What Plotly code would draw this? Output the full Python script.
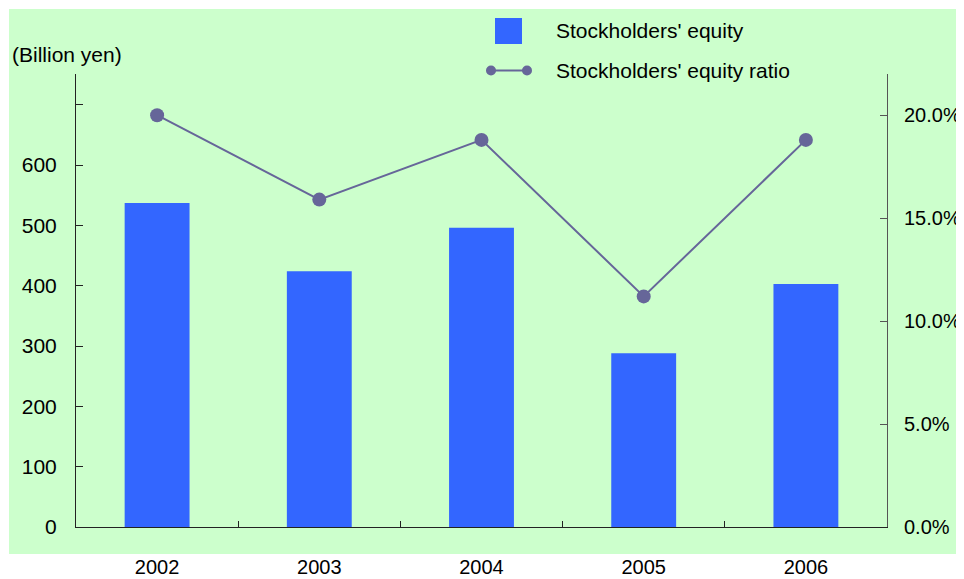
import plotly.graph_objects as go

years = ["2002", "2003", "2004", "2005", "2006"]
equity = [537, 424, 496, 288, 403]          # billion yen
equity_ratio = [20.0, 15.9, 18.8, 11.2, 18.8]  # %

left_ticks = [0, 100, 200, 300, 400, 500, 600, 700]
left_text = ["0", "100", "200", "300", "400", "500", "600", ""]
right_ticks = [0, 5, 10, 15, 20]
right_text = ["0.0%", "5.0%", "10.0%", "15.0%", "20.0%"]

BAR = "#3366FF"
LINE = "#666699"
GREEN = "#CCFFCC"
FONT = "Liberation Sans, Arial, sans-serif"

OFF = 8  # page body offset
W, H = 964 - OFF, 579 - OFF
L, T = 76 - OFF, 74 - OFF
R = W - (887 - OFF)
B = H - (527 - OFF)
pw, ph = W - L - R, H - T - B

def px_x(x):  # screen px -> paper
    return (x - OFF - L) / pw

def px_y(y):
    return (H - B - (y - OFF)) / ph

fig = go.Figure()
fig.add_trace(go.Bar(x=years, y=equity, name="Stockholders' equity",
                     marker=dict(color=BAR, line=dict(width=0)), showlegend=False))
fig.add_trace(go.Scatter(x=years, y=equity_ratio, name="Stockholders' equity ratio",
                         yaxis="y2", mode="lines+markers",
                         line=dict(color=LINE, width=2),
                         marker=dict(color=LINE, size=14), showlegend=False))

shapes = [
    dict(type="rect", xref="paper", yref="paper", x0=px_x(9), x1=px_x(980),
         y0=px_y(554), y1=px_y(9), fillcolor=GREEN, line=dict(width=0), layer="below"),
    # legend swatches
    dict(type="rect", xref="paper", yref="paper", x0=px_x(495), x1=px_x(522),
         y0=px_y(44), y1=px_y(18), fillcolor=BAR, line=dict(width=0)),
    dict(type="line", xref="paper", yref="paper", x0=px_x(491), x1=px_x(527),
         y0=px_y(70.5), y1=px_y(70.5), line=dict(color=LINE, width=2)),
]
for cx in (491, 527):
    shapes.append(dict(type="circle", xref="paper", yref="paper",
                       xsizemode="pixel", ysizemode="pixel",
                       xanchor=px_x(cx), yanchor=px_y(70.5),
                       x0=-5, x1=5, y0=-5, y1=5,
                       fillcolor=LINE, line=dict(width=0)))

annotations = [
    dict(text="(Billion yen)", xref="paper", yref="paper", x=px_x(10), y=px_y(54),
         xanchor="left", yanchor="middle", showarrow=False,
         font=dict(size=21, color="black", family=FONT)),
    dict(text="Stockholders' equity", xref="paper", yref="paper", x=px_x(554), y=px_y(31),
         xanchor="left", yanchor="middle", showarrow=False,
         font=dict(size=21, color="black", family=FONT)),
    dict(text="Stockholders' equity ratio", xref="paper", yref="paper", x=px_x(554), y=px_y(71),
         xanchor="left", yanchor="middle", showarrow=False,
         font=dict(size=21, color="black", family=FONT)),
]

fig.update_layout(
    width=W, height=H,
    margin=dict(l=L, r=R, t=T, b=B, autoexpand=False),
    paper_bgcolor="white",
    plot_bgcolor="rgba(0,0,0,0)",
    bargap=0.6,
    font=dict(family=FONT, color="black", size=21),
    shapes=shapes,
    annotations=annotations,
    xaxis=dict(showgrid=False, showline=True, linecolor="#222222", linewidth=1,
               ticks="inside", tickson="boundaries", ticklen=6, tickcolor="#222222",
               tickfont=dict(size=20), ticklabelstandoff=22, zeroline=False,
               automargin=False),
    yaxis=dict(range=[0, 751], tickvals=left_ticks, ticktext=left_text,
               showgrid=False, zeroline=False, showline=True, linecolor="#222222",
               linewidth=1, ticks="inside", ticklen=7, tickcolor="#222222",
               ticklabelstandoff=14, automargin=False),
    yaxis2=dict(range=[0, 22], tickvals=right_ticks, ticktext=right_text,
                overlaying="y", side="right", showgrid=False, zeroline=False,
                showline=True, linecolor="#555555", linewidth=1, ticks="inside",
                ticklen=7, tickcolor="#555555", ticklabelstandoff=12,
                tickfont=dict(size=20), automargin=False),
)

fig.write_html("out.html")
